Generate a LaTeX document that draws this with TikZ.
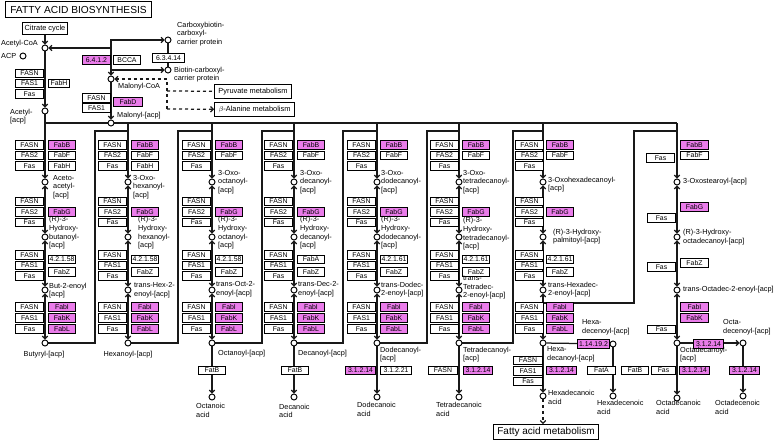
\documentclass[tikz,border=0pt]{standalone}
\usepackage{fontspec}
\setmainfont{Liberation Sans}
\usetikzlibrary{arrows.meta}
\pgfdeclarelayer{bg}
\pgfsetlayers{bg,main}
\definecolor{hit}{RGB}{234,124,234}
\newcounter{bxn}
\tikzset{
  ebox/.style={draw=black,line width=1pt,fill=white,inner sep=0pt,minimum height=8.6pt,anchor=north west,font=\fontsize{6.9}{7}\selectfont},
  hbox/.style={ebox,fill=hit},
  cpd/.style={circle,draw=black,line width=0.95pt,fill=white,inner sep=0pt,minimum size=6pt},
  lbl/.style={font=\fontsize{7.3}{8.7}\selectfont,align=left,inner sep=0pt,anchor=west},
  conn/.style={line width=1.25pt,draw=black!90},
  fw/.style={conn,-{Straight Barb[length=2.6pt,width=5.6pt]}},
  bw/.style={conn,{Straight Barb[length=2.6pt,width=5.6pt]}-{Straight Barb[length=2.6pt,width=5.6pt]}},
  dsh/.style={conn,dash pattern=on 3pt off 3pt},
  mapbox/.style={draw=black,line width=1pt,fill=white,inner sep=0pt,anchor=north west,font=\fontsize{7.4}{8}\selectfont}
}
\newcommand\bx[4]{\stepcounter{bxn}\node[ebox,minimum width=#3pt] (bx\arabic{bxn}) at (#1,#2) {#4};}
\newcommand\hx[4]{\stepcounter{bxn}\node[hbox,minimum width=#3pt] (bx\arabic{bxn}) at (#1,#2) {#4};}
\newcommand\lb[3]{\stepcounter{bxn}\node[lbl] (lb\arabic{bxn}) at (#1,#2) {#3};}
\newcommand\stackL[1]{%
 \bx{#1}{140}{28}{FASN}\bx{#1}{150.5}{28}{FAS2}\bx{#1}{161}{28}{Fas}%
 \bx{#1}{196.5}{28}{FASN}\bx{#1}{207}{28}{FAS2}\bx{#1}{217.5}{28}{Fas}%
 \bx{#1}{250}{28}{FASN}\bx{#1}{260.5}{28}{FAS1}\bx{#1}{271}{28}{Fas}%
 \bx{#1}{302}{28}{FASN}\bx{#1}{313}{28}{FAS1}\bx{#1}{324}{28}{Fas}}
\newcommand\stackR[2]{%
 \hx{#1}{140}{27}{FabB}\bx{#1}{150.5}{27}{FabF}%
 \hx{#1}{207}{27}{FabG}%
 \bx{#1}{254.5}{27}{#2}\bx{#1}{267}{27}{FabZ}%
 \hx{#1}{302}{27}{FabI}\hx{#1}{313}{27}{FabK}\hx{#1}{324}{27}{FabL}}
\newcommand\chain[2]{%
 \node[cpd] (K#1) at (#2,182) {};
 \node[cpd] (H#1) at (#2,237) {};
 \node[cpd] (E#1) at (#2,290) {};
 \node[cpd] (A#1) at (#2,343) {};
 \coordinate (J#1) at (#2,123);
 \coordinate (R#1) at (#2,131);}
\begin{document}
\begin{tikzpicture}[x=1pt,y=-1pt]
\useasboundingbox (0,0) rectangle (777,442);
% title and map boxes
\node[draw=black,line width=1pt,inner sep=0pt,minimum width=146pt,minimum height=16pt,anchor=north west,font=\fontsize{10.2}{10}\selectfont] (title) at (5,1) {FATTY ACID BIOSYNTHESIS};
\node[mapbox,minimum width=45pt,minimum height=12pt] (cit) at (22,22) {Citrate cycle};
\node[mapbox,minimum width=77pt,minimum height=14pt] (pyr) at (214,84) {Pyruvate metabolism};
\node[mapbox,minimum width=80pt,minimum height=14pt] (bal) at (214,102) {$\beta$-Alanine metabolism};
\node[mapbox,minimum width=105pt,minimum height=15pt,font=\fontsize{10}{10}\selectfont] (fam) at (493,424) {Fatty acid metabolism};
% top compounds
\node[cpd] (AC) at (45,48) {};
\node[cpd] (ACP) at (23,56) {};
\node[cpd] (AA) at (45,111) {};
\node[cpd] (MC) at (111,79) {};
\node[cpd] (MA) at (111,123) {};
\node[cpd] (CB) at (168,40) {};
\node[cpd] (BI) at (168,70) {};
\coordinate (t1) at (111,48);
\coordinate (t2) at (111,40);
\coordinate (t3) at (111,70);
\coordinate (d1) at (167,79);
\coordinate (d2) at (167,91);
\coordinate (d3) at (167,109);
% top enzymes
\bx{15}{68.5}{28}{FASN}\bx{15}{78.5}{28}{FAS1}\bx{15}{89}{28}{Fas}\bx{48}{78.5}{21}{FabH}
\hx{82}{55}{28}{6.4.1.2}\bx{113}{55}{27}{BCCA}\bx{152}{53}{32}{6.3.4.14}
\bx{82}{93}{28}{FASN}\bx{82}{103}{28}{FAS1}\hx{113}{97}{29}{FabD}
% top labels
\lb{1}{44}{Acetyl-CoA}
\lb{1}{56}{ACP}
\lb{10}{116.5}{Acetyl-\\{}[acp]}
\lb{118}{87}{Malonyl-CoA}
\lb{117}{116}{Malonyl-[acp]}
\lb{177}{34}{Carboxybiotin-\\carboxyl-\\carrier protein}
\lb{174}{74.5}{Biotin-carboxyl-\\carrier protein}
% columns
\chain{1}{45}\chain{2}{128}\chain{3}{212}\chain{4}{294}\chain{5}{377}\chain{6}{459}\chain{7}{543}
\node[cpd] (K8) at (677,182) {};
\node[cpd] (H8) at (677,237) {};
\node[cpd] (E8) at (677,290) {};
\node[cpd] (A8) at (677,343) {};
\coordinate (J8) at (677,123);
\coordinate (R8) at (677,131);
\coordinate (S7) at (543,303);
\stackL{15}\stackR{48}{4.2.1.58}\bx{48}{161}{27}{FabH}
\stackL{98}\stackR{131}{4.2.1.58}\bx{131}{161}{27}{FabH}
\stackL{182}\stackR{215}{4.2.1.58}
\stackL{264}\stackR{297}{FabA}
\stackL{347}\stackR{380}{4.2.1.61}
\stackL{430}\stackR{462}{4.2.1.61}
\stackL{515}\stackR{546}{4.2.1.61}
% column 8 enzymes
\hx{680}{140}{28}{FabB}\bx{680}{150.5}{28}{FabF}\bx{646}{153}{28}{Fas}
\hx{680}{202}{28}{FabG}\bx{647}{213}{28}{Fas}
\bx{680}{258}{28}{FabZ}\bx{647}{262}{28}{Fas}
\hx{680}{302}{28}{FabI}\hx{680}{313}{28}{FabK}\bx{647}{324.5}{28}{Fas}
% bottom compounds
\node[cpd] (F3) at (212,397) {};
\node[cpd] (F4) at (294,397) {};
\node[cpd] (F5) at (377,397) {};
\node[cpd] (F6) at (459,397) {};
\node[cpd] (F7) at (543,396) {};
\node[cpd] (HD) at (613,344) {};
\node[cpd] (HDA) at (613,396) {};
\node[cpd] (OD) at (743,343) {};
\node[cpd] (ODA) at (743,396) {};
\node[cpd] (F8) at (677,398) {};
% bottom enzymes
\bx{198}{365.5}{27}{FatB}
\bx{281}{365.5}{27}{FatB}
\hx{345}{365.5}{30}{3.1.2.14}\bx{380}{365.5}{31}{3.1.2.21}
\bx{428}{365.5}{29}{FASN}\hx{463}{365.5}{29}{3.1.2.14}
\bx{513}{355.5}{29}{FASN}\bx{513}{366}{29}{FAS1}\bx{513}{376.5}{29}{Fas}\hx{546}{365.5}{30}{3.1.2.14}
\hx{577}{339}{32}{1.14.19.2}
\bx{587}{365.5}{28}{FatA}\bx{621}{365.5}{27}{FatB}
\bx{651}{365.5}{24}{Fas}\hx{679}{365.5}{30}{3.1.2.14}\hx{729}{365.5}{30}{3.1.2.14}
\hx{693}{339}{30}{3.1.2.14}
% column labels
\lb{53}{187}{Aceto-\\acetyl-\\{}[acp]}
\lb{49}{233}{(R)-3-\\Hydroxy-\\butanoyl-\\{}[acp]}
\lb{49}{290.5}{But-2-enoyl\\{}[acp]}
\node[lbl,anchor=center] (lbBut) at (44,355) {Butyryl-[acp]};
\lb{133}{187}{3-Oxo-\\hexanoyl-\\{}[acp]}
\lb{138}{233}{(R)-3-\\Hydroxy-\\hexanoyl-\\{}[acp]}
\lb{134}{290.5}{trans-Hex-2-\\enoyl-[acp]}
\node[lbl,anchor=center] (lbHex) at (128,355) {Hexanoyl-[acp]};
\lb{218}{182}{3-Oxo-\\octanoyl-\\{}[acp]}
\lb{218}{233}{(R)-3-\\Hydroxy-\\octanoyl-\\{}[acp]}
\lb{216}{289.5}{trans-Oct-2-\\enoyl-[acp]}
\lb{218}{354}{Octanoyl-[acp]}
\lb{196}{410.5}{Octanoic\\acid}
\lb{300}{182}{3-Oxo-\\decanoyl-\\{}[acp]}
\lb{300}{233}{(R)-3-\\Hydroxy-\\decanoyl-\\{}[acp]}
\lb{298}{289.5}{trans-Dec-2-\\enoyl-[acp]}
\lb{298}{354}{Decanoyl-[acp]}
\lb{279}{411}{Decanoic\\acid}
\lb{381}{182}{3-Oxo-\\dodecanoyl-\\{}[acp]}
\lb{381}{233}{(R)-3-\\Hydroxy-\\dodecanoyl-\\{}[acp]}
\lb{381}{289.5}{trans-Dodec-\\2-enoyl-[acp]}
\lb{380}{354.5}{Dodecanoyl-\\{}[acp]}
\lb{357}{409.5}{Dodecanoic\\acid}
\lb{463}{182}{3-Oxo-\\tetradecanoyl-\\{}[acp]}
\lb{463}{234}{(R)-3-\\Hydroxy-\\tetradecanoyl-\\{}[acp]}
\lb{463}{287.5}{trans-\\Tetradec-\\2-enoyl-[acp]}
\lb{463}{354.5}{Tetradecanoyl-\\{}[acp]}
\lb{436}{409.5}{Tetradecanoic\\acid}
\lb{548}{184.5}{3-Oxohexadecanoyl-\\{}[acp]}
\lb{553}{236.5}{(R)-3-Hydroxy-\\palmitoyl-[acp]}
\lb{548}{289.5}{trans-Hexadec-\\2-enoyl-[acp]}
\lb{547}{354.5}{Hexa-\\decanoyl-[acp]}
\lb{548}{397.5}{Hexadecanoic\\acid}
\lb{582}{327}{Hexa-\\decenoyl-[acp]}
\lb{597}{407.5}{Hexadecenoic\\acid}
\lb{683}{182}{3-Oxostearoyl-[acp]}
\lb{683}{237}{(R)-3-Hydroxy-\\octadecanoyl-[acp]}
\lb{683}{290}{trans-Octadec-2-enoyl-[acp]}
\lb{723}{327.5}{Octa-\\decenoyl-[acp]}
\lb{680}{354.5}{Octadecanoyl-\\{}[acp]}
\lb{656}{407.5}{Octadecanoic\\acid}
\lb{715}{407.5}{Octadecenoic\\acid}
% connectors
\begin{pgfonlayer}{bg}
\fill[white] (0,0) rectangle (777,442);
\draw[fw] (cit) -- (AC);
\draw[fw] (AC) -- (AA);
\draw[bw] (AC) -- (t1) -- (MC);
\draw[fw] (t1) -- (t2) -- (CB);
\draw[fw] (t3) -- (BI);
\draw[conn] (CB) -- (BI);
\draw[fw] (MC) -- (MA);
\draw[dsh,{Straight Barb[length=2.6pt,width=5.6pt]}-] (MC) -- (d1) -- (d3);
\draw[dsh] (d2) -- (pyr);
\draw[dsh,-{Straight Barb[length=2.6pt,width=5.6pt]}] (d3) -- (bal);
\draw[conn] (J1) -- (MA);
\draw[conn] (MA) -- (J8);
\draw[fw] (AA) -- (K1);
\foreach \c in {2,...,8} {\draw[fw] (J\c) -- (K\c);}
\foreach \c in {1,...,8} {
  \draw[bw] (K\c) -- (H\c);
  \draw[bw] (H\c) -- (E\c);
  \draw[bw] (E\c) -- (A\c);
}
\foreach \p/\c/\l in {1/2/95, 2/3/178, 3/4/262, 4/5/343, 5/6/427, 6/7/513} {
  \draw[conn] (A\p) -- (\l,343) -- (\l,131) -- (R\c);
}
\draw[conn] (S7) -- (634,303) -- (634,131) -- (R8);
\foreach \c in {3,...,8} {\draw[fw] (A\c) -- (F\c);}
\draw[fw] (A7) -- (HD);
\draw[fw] (HD) -- (HDA);
\draw[fw] (A8) -- (OD);
\draw[fw] (OD) -- (ODA);
\draw[dsh,-{Straight Barb[length=2.6pt,width=5.6pt]}] (F7) -- (F7 |- fam.north);
\end{pgfonlayer}
\end{tikzpicture}
\end{document}
